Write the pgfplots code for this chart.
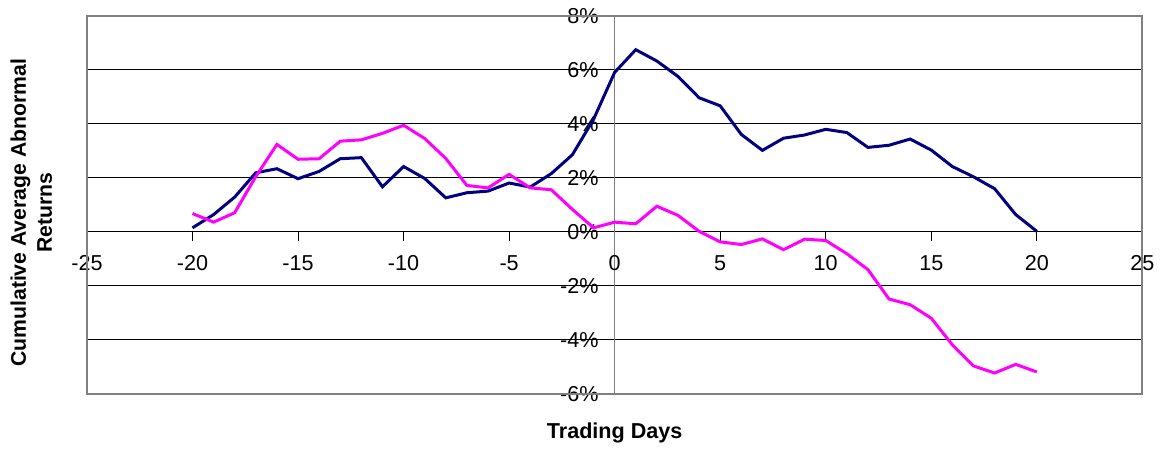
\documentclass[border=0pt]{standalone}
\usepackage{pgfplots}
\pgfplotsset{compat=1.18}
\usepackage{fontspec}
\setmainfont{Liberation Sans}
\definecolor{xlnavy}{RGB}{0,0,128}
\definecolor{xlmag}{RGB}{255,0,255}
\definecolor{xlgray}{RGB}{128,128,128}
\pgfplotstableread{
x y
-20 0.15
-19 0.64
-18 1.29
-17 2.19
-16 2.34
-15 1.97
-14 2.24
-13 2.71
-12 2.75
-11 1.67
-10 2.42
-9 1.98
-8 1.26
-7 1.45
-6 1.51
-5 1.81
-4 1.66
-3 2.16
-2 2.86
-1 4.17
0 5.91
1 6.75
2 6.33
3 5.76
4 4.97
5 4.67
6 3.61
7 3.02
8 3.47
9 3.59
10 3.80
11 3.68
12 3.13
13 3.21
14 3.44
15 3.03
16 2.42
17 2.04
18 1.60
19 0.64
20 0.02
}\navydata
\pgfplotstableread{
x y
-20 0.68
-19 0.36
-18 0.71
-17 2.05
-16 3.24
-15 2.69
-14 2.71
-13 3.36
-12 3.41
-11 3.65
-10 3.95
-9 3.46
-8 2.72
-7 1.72
-6 1.63
-5 2.13
-4 1.63
-3 1.56
-2 0.83
-1 0.15
0 0.36
1 0.30
2 0.95
3 0.61
4 0.02
5 -0.37
6 -0.47
7 -0.26
8 -0.66
9 -0.27
10 -0.32
11 -0.81
12 -1.40
13 -2.49
14 -2.70
15 -3.20
16 -4.19
17 -4.97
18 -5.23
19 -4.91
20 -5.19
}\magdata
\begin{document}
\begin{tikzpicture}
\begin{axis}[
  at={(0,0)}, anchor=south west,
  scale only axis,
  width=528bp, height=189bp,
  xmin=-25, xmax=25, ymin=-6, ymax=8,
  axis lines=middle,
  hide obscured x ticks=false,
  hide obscured y ticks=false,
  axis line style={-, black, line width=0.5bp},
  y axis line style={xlgray, line width=0.8bp},
  xtick={-25,-20,...,25},
  ytick={-6,-4,...,8},
  ymajorgrids,
  grid style={black, line width=0.5bp},
  tick align=outside,
  major tick length=4.5bp,
  tick style={black, line width=0.5bp},
  /pgf/number format/assume math mode=true,
  tick label style={font=\fontsize{10.8bp}{13bp}\selectfont},
  xticklabel style={anchor=north, yshift=-4bp},
  yticklabel style={anchor=east, xshift=0bp},
  yticklabel={\pgfmathprintnumber{\tick}\%},
  xlabel={Trading Days},
  ylabel={Cumulative Average Abnormal\\Returns},
  every axis x label/.style={at={(rel axis cs:0.5,0)}, anchor=base, yshift=-22.5bp, font=\bfseries\fontsize{10.8bp}{13bp}\selectfont},
  every axis y label/.style={at={(rel axis cs:-0.0527,0.479)}, anchor=center, rotate=90, align=center, font=\bfseries\fontsize{10.6bp}{13bp}\selectfont},
  clip=false,
]
\addplot[xlnavy, line width=1.5bp] table[x=x,y=y] {\navydata};
\addplot[xlmag, line width=1.5bp] table[x=x,y=y] {\magdata};
\draw[xlgray, line width=1bp] (rel axis cs:0,0) rectangle (rel axis cs:1,1);
\end{axis}
\path (-43.5bp,-27.5bp) rectangle (537bp,197bp);
\end{tikzpicture}
\end{document}
